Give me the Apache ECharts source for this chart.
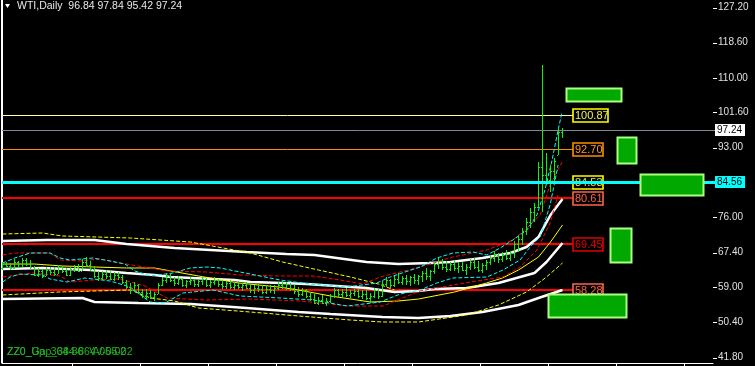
<!DOCTYPE html>
<html><head><meta charset="utf-8">
<script src="https://cdn.jsdelivr.net/npm/echarts@6/dist/echarts.min.js"></script>
<style>html,body{margin:0;padding:0;background:#000;}#c{width:755px;height:366px;}</style>
</head><body><div id="c"></div>
<script>
// ---------- DATA ----------
const headerText = 'WTI,Daily  96.84 97.84 95.42 97.24';
const footerTexts = ['ZZ0_Gap_384-864V-05-02', 'ZZ0_Up_364-86  V-05-02'];

const barOpen = [63.6,64.6,64.2,63.6,65.2,64.0,65.6,64.6,63.8,62.0, 62.8,61.8,63.2,62.6,62.2,63.8,62.8,62.0,63.4,64.0,
 63.0,65.2,64.4,63.4,61.8,61.2,62.2,61.6,61.0,62.0, 61.4,60.2,59.0,58.2,59.4,57.8,56.8,57.6,56.6,57.2,
 59.4,60.8,61.8,60.6,60.0,61.0,59.6,60.4,60.8,59.8, 60.4,61.0,59.6,60.2,60.8,59.8,59.2,60.0,59.0,59.6,
 59.0,59.4,58.8,58.2,58.8,58.4,57.8,58.6,58.2,58.8, 59.6,59.0,59.8,58.8,58.0,57.2,58.2,56.8,56.0,55.2,
 55.8,55.0,55.6,56.8,58.2,57.2,57.8,57.0,57.6,58.0, 56.8,57.4,56.2,56.8,58.2,56.8,59.8,60.6,59.4,61.0,
 60.2,61.2,60.4,61.4,60.8,61.6,62.4,61.6,62.8,64.6, 65.4,64.0,63.4,64.6,63.6,64.2,63.2,63.8,65.2,64.0,
 63.2,64.4,65.0,66.2,66.8,65.8,67.0,66.2,67.2,69.4, 70.8,72.6,74.8,77.2,78.6,88.2,86.4,85.2,87.4,91.2, 96.84];
const barHigh = [65.0,65.2,64.8,65.8,65.4,66.0,66.2,65.6,64.2,63.6, 63.4,63.8,64.0,63.8,64.4,64.2,63.6,63.8,64.4,64.6,
 65.8,66.4,65.4,63.8,63.0,62.8,63.2,62.8,62.6,62.6, 62.0,60.8,60.0,60.2,59.8,58.6,58.4,58.2,57.8,60.0,
 61.4,62.4,62.2,61.4,61.6,61.2,60.8,61.4,61.0,60.8, 61.6,61.2,60.6,61.4,61.0,60.6,60.4,60.8,60.2,60.4,
 60.0,60.2,59.6,59.4,59.8,59.4,59.2,59.6,59.4,60.2, 60.4,60.2,60.0,59.6,59.0,58.8,58.6,57.8,57.4,56.6,
 57.0,56.4,57.4,58.8,58.6,58.4,58.8,58.2,58.6,58.4, 58.2,58.4,57.6,58.8,58.6,60.4,61.4,61.0,61.6,62.4,
 61.6,62.0,61.8,62.2,62.0,63.0,63.6,63.2,65.2,66.2, 65.8,65.4,65.2,65.6,65.0,65.2,64.6,65.8,66.0,65.4,
 64.8,65.6,66.8,67.8,67.4,67.6,68.0,67.8,70.2,71.4, 73.4,75.8,78.2,79.6,89.4,113.2,91.8,88.8,90.6,97.8, 97.84];
const barLow = [63.2,63.8,63.2,63.4,63.6,64.0,64.2,63.4,61.6,61.4, 61.2,61.8,62.0,61.6,62.2,62.4,61.6,61.8,62.6,62.6,
 63.0,64.0,63.0,61.2,60.4,60.6,61.0,60.6,60.4,60.8, 59.8,58.4,57.4,57.8,57.2,56.2,55.8,56.0,55.6,57.2,
 59.2,60.0,60.2,59.2,59.4,59.0,58.8,59.4,59.0,59.0, 59.6,59.0,58.8,59.4,59.0,58.4,58.6,58.6,58.2,58.6,
 58.0,58.4,57.6,57.4,57.8,57.2,57.4,57.6,57.4,58.2, 58.4,58.2,58.0,57.4,56.6,56.8,56.4,55.6,54.8,54.6,
 54.8,54.4,55.2,56.4,56.6,56.4,56.6,56.2,56.8,56.4, 56.0,55.8,55.2,56.2,56.0,56.6,59.0,58.6,59.0,59.8,
 59.4,59.6,59.2,59.8,59.6,60.2,60.8,60.4,62.2,63.4, 63.2,62.6,62.8,63.0,62.4,62.8,62.0,63.2,63.4,62.6,
 62.4,63.2,64.4,65.2,64.8,65.2,65.6,65.4,66.0,67.6, 69.2,71.6,73.4,74.8,78.2,77.4,83.8,82.2,84.6,91.2, 95.42];
const barClose = [64.6,64.2,63.6,65.2,64.0,65.6,64.6,63.8,62.0,62.8, 61.8,63.2,62.6,62.2,63.8,62.8,62.0,63.4,64.0,63.0,
 65.2,64.4,63.4,61.8,61.2,62.2,61.6,61.0,62.0,61.4, 60.2,59.0,58.2,59.4,57.8,56.8,57.6,56.6,57.2,59.4,
 60.8,61.8,60.6,60.0,61.0,59.6,60.4,60.8,59.8,60.4, 61.0,59.6,60.2,60.8,59.8,59.2,60.0,59.0,59.6,59.0,
 59.4,58.8,58.2,58.8,58.4,57.8,58.6,58.2,58.8,59.6, 59.0,59.8,58.8,58.0,57.2,58.2,56.8,56.0,55.2,55.8,
 55.0,55.6,56.8,58.2,57.2,57.8,57.0,57.6,58.0,56.8, 57.4,56.2,56.8,58.2,56.8,59.8,60.6,59.4,61.0,60.2,
 61.2,60.4,61.4,60.8,61.6,62.4,61.6,62.8,64.6,65.4, 64.0,63.4,64.6,63.6,64.2,63.2,63.8,65.2,64.0,63.2,
 64.4,65.0,66.2,66.8,65.8,67.0,66.2,67.2,69.4,70.8, 72.6,74.8,77.2,78.6,88.2,86.4,85.2,87.4,89.8,96.8, 97.24];

// indicator lines: [bar index, price]
const whiteUpper = [[0,70.23],[11,70.47],[23,70.47],[31,69.49],[43,68.51],[61,67.54],[71,67.05],[78,66.81],[91,65.10],[99,64.61],[107,64.86],[112,65.10],[120,66.08],[127,67.30],[131,68.76],[134,71.21],[137,76.57],[140,80.47]];
const whiteMid = [[0,63.39],[10,63.64],[22,63.15],[31,62.42],[38,61.93],[42,61.44],[58,60.71],[62,60.22],[70,59.98],[76,59.73],[91,58.76],[98,57.78],[104,58.03],[108,58.51],[116,58.76],[124,59.98],[133,62.42],[136,65.10],[140,69.74]];
const whiteLower = [[0,56.07],[20,56.32],[23,55.34],[34,55.10],[47,54.85],[61,53.88],[74,52.90],[82,52.41],[95,51.68],[104,51.44],[112,51.93],[120,52.90],[129,54.61],[134,56.32],[140,58.27]];
const yellowMA = [[0,64.61],[8,64.61],[15,64.13],[31,63.64],[38,63.64],[49,61.69],[59,59.98],[69,59.00],[74,58.27],[82,56.81],[92,55.34],[99,55.59],[104,56.07],[113,57.78],[121,59.98],[125,61.20],[129,63.15],[134,66.32],[137,69.98],[140,74.13]];
const yellowUpper = [[0,71.93],[10,72.18],[15,71.45],[32,70.96],[47,69.98],[62,67.30],[70,65.10],[79,63.15],[87,61.44],[94,59.73],[98,58.27]];
const yellowLower = [[0,57.05],[14,57.78],[32,58.27],[37,56.32],[43,55.59],[49,53.88],[62,52.90],[74,51.93],[87,50.95],[95,50.46],[104,50.46],[116,52.17],[124,54.61],[131,57.78],[136,61.44],[140,64.86]];
const cyanUpper = [[0,64.86],[3.1,66.08],[6.9,67.30],[11.9,67.30],[14.4,66.08],[16.9,65.59],[22.6,66.08],[26.9,65.35],[30.6,64.61],[33.1,62.91],[36.9,61.69],[42.6,62.42],[46.9,63.64],[51.1,63.88],[54.4,63.64],[59.4,62.66],[64.4,61.69],[69.4,60.71],[76.9,59.73],[86.1,59.00],[93.6,59.98],[96.9,61.44],[104.4,63.88],[108.6,66.08],[112.6,67.30],[117.6,67.54],[121.1,66.81],[124.4,68.52],[127.6,70.47],[131.1,72.91],[133.6,76.57],[135.6,82.67],[137.4,89.99],[138.9,97.31],[139.9,101.70]];
const cyanLower = [[0,60.22],[1.9,61.44],[4.4,62.17],[10.1,61.93],[11.9,60.95],[16.1,60.22],[20.6,61.20],[26.9,60.47],[31.9,59.00],[36.9,55.34],[40.6,55.10],[45.1,57.54],[52.6,58.27],[59.4,56.81],[69.4,56.32],[77.6,55.83],[86.1,54.36],[94.4,55.34],[99.4,57.29],[104.4,58.27],[108.6,59.98],[112.6,61.20],[121.1,61.44],[125.1,63.15],[129.4,65.59],[131.9,68.76],[134.4,71.21],[136.9,79.01],[138.9,88.77]];
const redUpper = [[0,66.81],[3.1,67.30],[11.9,67.30],[14.4,65.59],[19.4,65.35],[24.4,65.83],[29.4,64.86],[36.9,63.64],[41.1,62.91],[51.1,62.66],[59.4,61.93],[69.4,61.69],[77.6,61.69],[84.4,60.71],[90.1,59.73],[94.4,61.44],[104.4,63.88],[112.6,66.32],[121.1,68.03],[127.6,70.47],[131.1,73.40],[134.4,76.57],[136.9,83.89],[139.9,89.50]];
const redLower = [[0,61.44],[7.6,62.42],[14.4,61.69],[16.9,60.22],[22.6,60.71],[29.4,60.95],[35.6,59.25],[41.1,56.32],[51.1,55.83],[61.9,56.07],[74.4,55.59],[86.9,54.36],[95.1,54.36],[104.4,58.03],[116.9,60.22],[125.1,61.44],[129.4,63.88],[133.6,68.03],[136.9,74.62],[138.9,81.45]];

// horizontal levels with label boxes
const levelValues = [100.87, 92.70, 84.53, 80.61, 69.45, 58.28];
const levelLabels = ['100.87', '92.70', '84.53', '80.61', '69.45', '58.28'];
const currentPrice = 97.24;
const cyanLevel = 84.56;

// right axis tick labels
const axisTickValues = [127.20, 118.60, 110.00, 101.60, 93.00, 76.00, 67.40, 59.00, 50.40, 41.80];
// time-axis separator ticks (bar index)
const timeTickValues = [17.375, 34.375, 51.375, 68.375, 85.375, 102.375, 119.375, 136.375, 153.375, 170.375];

// green zones: [start bar index, end bar index, top price, bottom price]
const zones = [[140.9,154.6,107.56,104.39],[153.6,158.4,95.60,89.26],[159.4,175.1,86.57,81.45],[151.9,157.1,73.40,65.10],[136.4,155.9,57.29,51.68]];

// ---------- STYLE ----------
const X_MIN = -0.125, X_MAX = 177.625, Y_MIN = 40.46, Y_MAX = 129.03;
const LEVEL_BOX_IDX = 142.6;
const BAR_COLOR = '#11ee11';
const levelLineColors = ['#ffffa0', '#ff8c00', '#ffff00', '#ff0000', '#ff0000', '#ff0000'];
const levelLineWidths = [1, 1, 1, 2, 2, 2];
const levelBoxColors = ['#ffff00', '#ff8c00', '#ffff00', '#ff6347', '#e00000', '#ff6347'];
const levelTextColors = ['#f0f050', '#ff9a20', '#e6e640', '#ff6347', '#e00000', '#ff6347'];
const FONT = '"Liberation Sans", Arial, sans-serif';

const chart = echarts.init(document.getElementById('c'), null, {renderer: 'canvas'});

function renderBar(params, api) {
  const i = api.value(0);
  const top = api.coord([i, api.value(2)]);
  const bot = api.coord([i, api.value(3)]);
  const po = api.coord([i, api.value(1)]);
  const pc = api.coord([i, api.value(4)]);
  const x = Math.round(top[0] - 0.5);
  const y0 = Math.round(top[1]), y1 = Math.round(bot[1]);
  return {type: 'group', children: [
    {type: 'rect', shape: {x: x, y: y0, width: 1, height: Math.max(1, y1 - y0)}, style: {fill: BAR_COLOR}},
    {type: 'rect', shape: {x: x - 1, y: Math.round(po[1]), width: 1, height: 1}, style: {fill: BAR_COLOR}},
    {type: 'rect', shape: {x: x + 1, y: Math.round(pc[1]), width: 1, height: 1}, style: {fill: BAR_COLOR}}
  ]};
}

function renderLevel(params, api) {
  const k = params.dataIndex;
  const v = api.value(1);
  const ps = api.coord([X_MIN, v]);
  const pb = api.coord([LEVEL_BOX_IDX, v]);
  const lw = levelLineWidths[k];
  const y = lw % 2 ? Math.round(ps[1]) + 0.5 : Math.round(ps[1]);
  const txt = levelLabels[k];
  const w = txt.length > 5 ? 35 : 30;
  const bx = Math.round(pb[0]);
  const by = Math.round(pb[1]) - 6;
  return {type: 'group', children: [
    {type: 'line', shape: {x1: ps[0], y1: y, x2: bx, y2: y}, style: {stroke: levelLineColors[k], lineWidth: lw}},
    {type: 'rect', shape: {x: bx, y: by, width: w, height: 13}, style: {fill: '#000', stroke: levelBoxColors[k], lineWidth: 1.6}},
    {type: 'text', style: {x: bx + 2, y: by + 7, text: txt, fill: levelTextColors[k], font: '11px ' + FONT, textVerticalAlign: 'middle', textAlign: 'left'}}
  ]};
}

function renderZone(params, api) {
  const a = api.coord([api.value(0), api.value(2)]);
  const b = api.coord([api.value(1), api.value(3)]);
  return {type: 'rect', shape: {x: Math.round(a[0]) + 0.5, y: Math.round(a[1]) + 0.5, width: Math.round(b[0] - a[0]), height: Math.round(b[1] - a[1])},
    style: {fill: '#00a800', stroke: '#a8ff80', lineWidth: 2}};
}

function renderAxisTick(params, api) {
  const p = api.coord([X_MAX, api.value(1)]);
  const y = Math.round(p[1]) + 0.5;
  return {type: 'line', shape: {x1: p[0], y1: y, x2: p[0] + 4, y2: y}, style: {stroke: '#ffffff', lineWidth: 1}};
}

const markerStyles = [
  {line: '#7f8a96', lw: 1, bg: '#ffffff', fg: '#000000'},
  {line: '#00ffff', lw: 3, bg: '#00ffff', fg: '#000000'}
];
function renderMarker(params, api) {
  const k = params.dataIndex;
  const v = api.value(1);
  const ps = api.coord([X_MIN, v]);
  const pe = api.coord([X_MAX, v]);
  const s = markerStyles[k];
  const y = s.lw % 2 ? Math.round(ps[1]) + 0.5 : Math.round(ps[1]);
  const bx = Math.round(pe[0]) + 2, by = Math.round(pe[1]) - 6;
  return {type: 'group', children: [
    {type: 'line', shape: {x1: ps[0], y1: y, x2: bx, y2: y}, style: {stroke: s.line, lineWidth: s.lw}},
    {type: 'rect', shape: {x: bx, y: by, width: 30, height: 12}, style: {fill: s.bg}},
    {type: 'text', style: {x: bx + 2, y: by + 6.5, text: v.toFixed(2), fill: s.fg, font: '10px ' + FONT, textVerticalAlign: 'middle', textAlign: 'left'}}
  ]};
}

function lineSeries(name, data, color, width, type, z) {
  return {name, type: 'line', data, showSymbol: false, symbol: 'none', z: z || 2,
    lineStyle: {color, width, type: type || 'solid'}, silent: true, clip: true};
}

const barData = barOpen.map((o, i) => [i, o, barHigh[i], barLow[i], barClose[i]]);

chart.setOption({
  backgroundColor: '#000',
  animation: false,
  grid: {left: 2, right: 42, top: 0, bottom: 3, show: false},
  xAxis: {type: 'value', min: X_MIN, max: X_MAX, axisLine: {show: true, lineStyle: {color: '#fff', width: 1}},
    axisTick: {show: true, length: 3, customValues: timeTickValues, lineStyle: {color: '#fff'}},
    axisLabel: {show: false}, splitLine: {show: false}},
  yAxis: {type: 'value', position: 'right', min: Y_MIN, max: Y_MAX, axisLine: {show: true, lineStyle: {color: '#fff'}},
      axisTick: {show: false},
      axisLabel: {show: true, customValues: axisTickValues, formatter: v => v.toFixed(2), color: '#e0e0e0', fontSize: 10, fontFamily: FONT, margin: 5},
      splitLine: {show: false}},
  graphic: [
    {type: 'line', shape: {x1: 1.5, y1: 0, x2: 1.5, y2: 363}, style: {stroke: '#ffffff', lineWidth: 1}},
    {type: 'polygon', shape: {points: [[5, 4], [10, 4], [7.5, 8]]}, style: {fill: '#ffffff'}},
    {type: 'text', left: 17, top: 1, style: {text: headerText, fill: '#e8e8e8', font: '10.5px ' + FONT}},
    {type: 'text', left: 7, top: 347, style: {text: footerTexts[0], fill: '#22b022', font: '10.5px ' + FONT}},
    {type: 'text', left: 7, top: 347, style: {text: footerTexts[1], fill: '#22b022', font: '10.5px ' + FONT}}
  ],
  series: [
    {type: 'custom', name: 'levels', renderItem: renderLevel, data: levelValues.map(v => [LEVEL_BOX_IDX, v]), z: 1, clip: false, silent: true},
    lineSeries('whiteUpper', whiteUpper, '#ffffff', 2.5, 'solid', 2),
    lineSeries('whiteMid', whiteMid, '#ffffff', 2.5, 'solid', 2),
    lineSeries('whiteLower', whiteLower, '#ffffff', 2.5, 'solid', 2),
    lineSeries('yellowMA', yellowMA, '#ffff00', 1, 'solid', 2),
    lineSeries('yellowUpper', yellowUpper, '#ffff00', 1, [4, 2], 2),
    lineSeries('yellowLower', yellowLower, '#ffff00', 1, [4, 2], 2),
    lineSeries('redUpper', redUpper, '#ff0000', 1, [4, 2], 2),
    lineSeries('redLower', redLower, '#ff0000', 1, [4, 2], 2),
    lineSeries('cyanUpper', cyanUpper, '#00ffff', 1, [4, 2], 2),
    lineSeries('cyanLower', cyanLower, '#00ffff', 1, [4, 2], 2),
    {type: 'custom', name: 'bars', renderItem: renderBar, data: barData, encode: {x: 0, y: [1, 2, 3, 4]}, z: 3, silent: true},
    {type: 'custom', name: 'axisTicks', renderItem: renderAxisTick, data: axisTickValues.map(v => [X_MAX, v]), z: 4, clip: false, silent: true},
    {type: 'custom', name: 'markers', renderItem: renderMarker, data: [[X_MAX, currentPrice], [X_MAX, cyanLevel]], z: 4, clip: false, silent: true},
    {type: 'custom', name: 'zones', renderItem: renderZone, data: zones, encode: {x: [0, 1], y: [2, 3]}, z: 5, clip: false, silent: true}
  ]
});
</script></body></html>
